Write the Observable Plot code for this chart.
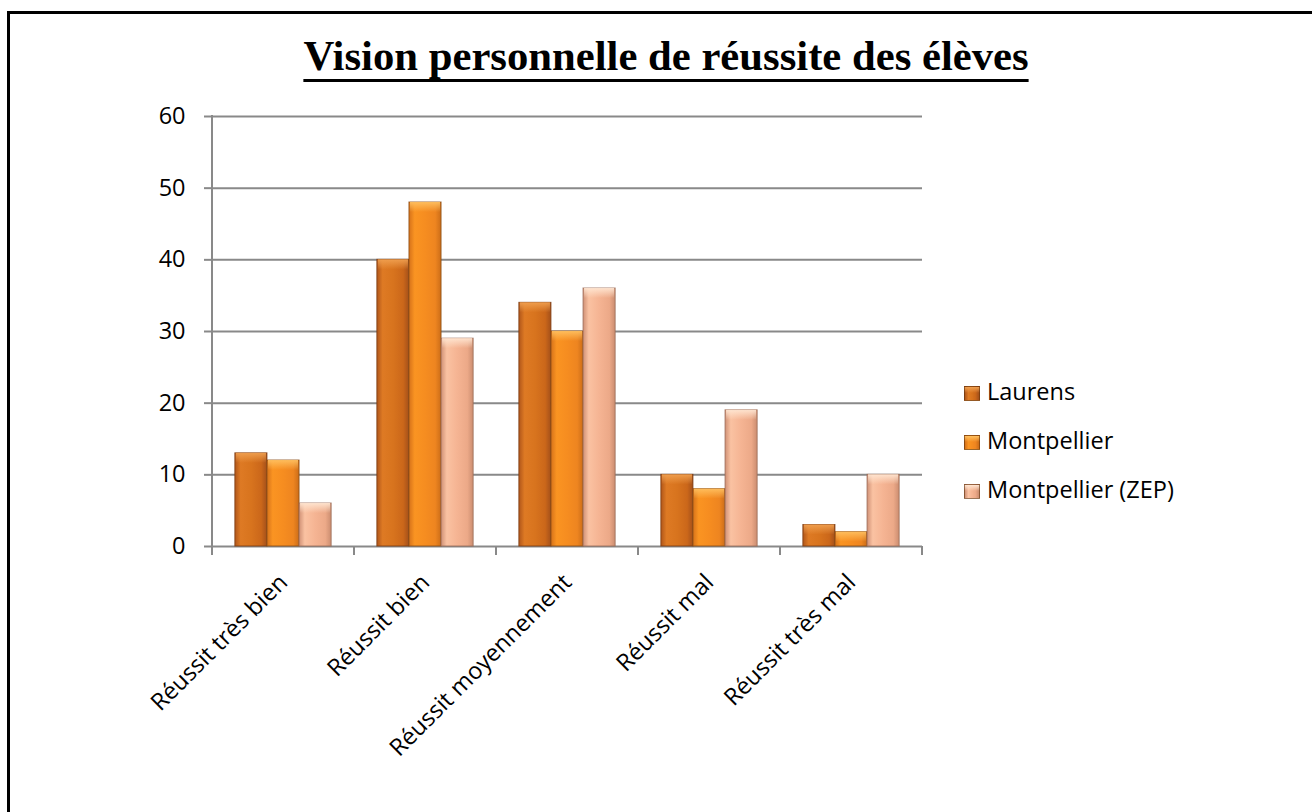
<!DOCTYPE html>
<html><head><meta charset="utf-8">
<script src="https://cdn.jsdelivr.net/npm/d3@7"></script>
<script src="https://cdn.jsdelivr.net/npm/@observablehq/plot@0.6"></script>
<style>
html,body{margin:0;padding:0;background:#fff;width:1312px;height:812px;overflow:hidden;}
#page{position:relative;width:1312px;height:812px;}
#border{position:absolute;left:7px;top:11px;width:1400px;height:900px;border-left:3px solid #000;border-top:3px solid #000;}
#title{position:absolute;left:0;width:1332px;top:35px;text-align:center;font:bold 42.7px "Liberation Serif","Times New Roman",serif;line-height:42px;text-decoration:underline;text-decoration-thickness:3px;text-underline-offset:9px;color:#000;white-space:nowrap;}
#chart{position:absolute;left:0;top:0;}
.lg{position:absolute;left:964px;font:23.5px "Open Sans",sans-serif;line-height:24px;color:#000;white-space:nowrap;}
.sw{position:absolute;left:0;top:7px;width:16px;height:15px;border:1px solid rgba(90,45,10,0.6);box-sizing:border-box;}
.lt{position:absolute;left:23px;top:0;}
</style></head>
<body><div id="page"><div id="border"></div><div id="title"></div><div id="chart"></div><div id="legend"></div></div>
<script>
const titleText = "Vision personnelle de réussite des élèves";
const categories = ["Réussit très bien", "Réussit bien", "Réussit moyennement", "Réussit mal", "Réussit très mal"];
const series = ["Laurens", "Montpellier", "Montpellier (ZEP)"];
const laurens = [13, 40, 34, 10, 3];
const montpellier = [12, 48, 30, 8, 2];
const zep = [6, 29, 36, 19, 10];
const yTicks = [0, 10, 20, 30, 40, 50, 60];

const seriesValues = [laurens, montpellier, zep];
const gradIds = ["gLaurens", "gMontpellier", "gZep"];
const topIds = ["tLaurens", "tMontpellier", "tZep"];
const gradStops = [
  ["#b0561a", "#de7a24", "#d8741e", "#cb671a", "#a4501a"],
  ["#d6721a", "#fa9422", "#f68d20", "#ee8520", "#cc6d18"],
  ["#d09176", "#fac2a2", "#f5b493", "#eca988", "#cb8d70"]
];
const topColors = ["#f0a050", "#ffc060", "#ffe6d2"];
const strokes = ["#7a3a10", "#8a4c14", "#9a6a55"];

const data = categories.flatMap((c, i) => series.map((s, j) => ({cat: c, s, v: seriesValues[j][i]})));

document.getElementById("title").textContent = titleText;

const gray = "#898989";
const fontSize = 23.5;
const chart = Plot.plot({
  width: 1312, height: 812,
  marginLeft: 210, marginRight: 388, marginTop: 116, marginBottom: 266,
  style: {fontFamily: "'Open Sans', sans-serif", fontSize: fontSize + "px", color: "#000", background: "transparent"},
  fx: {domain: categories, padding: 0, label: null},
  x: {domain: series, paddingInner: 0, paddingOuter: 0.712, round: false, axis: null},
  y: {domain: [0, 60], axis: null},
  marks: [
    Plot.gridY(yTicks, {stroke: gray, strokeOpacity: 1, strokeWidth: 2}),
    ...series.map((s, j) => Plot.barY(data.filter(d => d.s === s), {
      fx: "cat", x: "s", y: "v",
      fill: `url(#${gradIds[j]})`, stroke: strokes[j], strokeWidth: 1, strokeOpacity: 0.8
    })),
    ...series.map((s, j) => Plot.barY(data.filter(d => d.s === s), {
      fx: "cat", x: "s", y1: "v", y2: "v", insetBottom: -10, insetLeft: 1, insetRight: 1,
      fill: `url(#${topIds[j]})`
    })),
    Plot.axisY(yTicks, {anchor: "left", tickSize: 8, tickPadding: 19, stroke: gray, strokeWidth: 2, fill: "#000", fontSize, label: null}),
    Plot.axisFx({anchor: "bottom", tickSize: 0, tickPadding: 32, tickRotate: -45, fontSize, fill: "#000", label: null})
  ]
});
document.getElementById("chart").appendChild(chart);

const svg = d3.select(chart.tagName.toLowerCase() === "svg" ? chart : chart.querySelector("svg"));
const defs = svg.insert("defs", ":first-child");
gradIds.forEach((id, j) => {
  const g = defs.append("linearGradient").attr("id", id).attr("x1", "0").attr("x2", "1").attr("y1", "0").attr("y2", "0");
  [0, 0.18, 0.5, 0.82, 1].forEach((o, k) => g.append("stop").attr("offset", o).attr("stop-color", gradStops[j][k]));
});
topIds.forEach((id, j) => {
  const g = defs.append("linearGradient").attr("id", id).attr("x1", "0").attr("x2", "0").attr("y1", "0").attr("y2", "1");
  g.append("stop").attr("offset", 0).attr("stop-color", topColors[j]).attr("stop-opacity", 0.95);
  g.append("stop").attr("offset", 1).attr("stop-color", topColors[j]).attr("stop-opacity", 0);
});

const fx = chart.scale("fx"), y = chart.scale("y");
const y0 = y.apply(0), yTop = y.apply(60);
const bw = fx.bandwidth;
const starts = categories.map(c => fx.apply(c));
const bounds = [...starts, starts[starts.length - 1] + bw];
svg.append("line").attr("x1", bounds[0]).attr("x2", bounds[0]).attr("y1", yTop - 1).attr("y2", y0)
  .attr("stroke", gray).attr("stroke-width", 2);
bounds.forEach(b => svg.append("line").attr("x1", b).attr("x2", b).attr("y1", y0).attr("y2", y0 + 9)
  .attr("stroke", gray).attr("stroke-width", 2));

const legend = document.getElementById("legend");
series.forEach((s, j) => {
  const row = document.createElement("div");
  row.className = "lg";
  row.style.top = (379 + j * 49) + "px";
  const sw = document.createElement("div");
  sw.className = "sw";
  sw.style.background = `linear-gradient(180deg, ${topColors[j]} 0%, transparent 45%), linear-gradient(90deg, ${gradStops[j].join(", ")})`;
  const t = document.createElement("div");
  t.className = "lt";
  t.textContent = s;
  row.appendChild(sw); row.appendChild(t);
  legend.appendChild(row);
});
</script></body></html>
